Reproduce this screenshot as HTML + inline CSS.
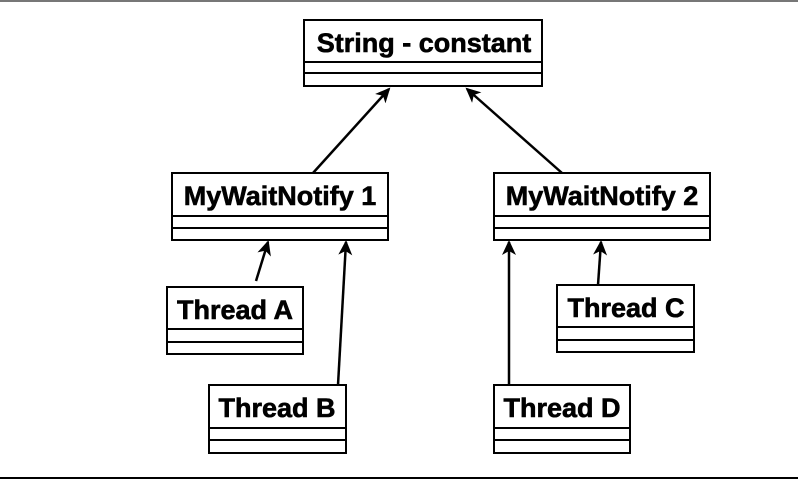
<!DOCTYPE html>
<html><head><style>
body{margin:0;background:#fff;width:798px;height:481px;overflow:hidden}
</style></head><body>
<svg width="798" height="481" viewBox="0 0 798 481" xmlns="http://www.w3.org/2000/svg">
<defs><marker id="a" markerWidth="16" markerHeight="16" refX="13" refY="8" orient="auto" markerUnits="userSpaceOnUse"><path d="M0,1 L15,8 L0,15 L4,8 z" fill="#000"/></marker></defs>
<line x1="0" y1="1" x2="798" y2="1" stroke="#777" stroke-width="2"/>
<line x1="0" y1="478" x2="798" y2="478" stroke="#000" stroke-width="2"/>
<g fill="#fff" stroke="#000" stroke-width="2">
<rect x="304" y="20" width="238" height="66"/><line x1="304" y1="62" x2="542" y2="62"/><line x1="304" y1="73" x2="542" y2="73"/>
<rect x="172" y="173" width="216" height="67"/><line x1="172" y1="216" x2="388" y2="216"/><line x1="172" y1="228" x2="388" y2="228"/>
<rect x="494" y="173" width="216" height="67"/><line x1="494" y1="216" x2="710" y2="216"/><line x1="494" y1="228" x2="710" y2="228"/>
<rect x="167" y="287" width="136" height="67"/><line x1="167" y1="329" x2="303" y2="329"/><line x1="167" y1="342" x2="303" y2="342"/>
<rect x="209" y="385" width="137" height="68"/><line x1="209" y1="428" x2="346" y2="428"/><line x1="209" y1="440" x2="346" y2="440"/>
<rect x="557" y="285" width="137" height="67"/><line x1="557" y1="327" x2="694" y2="327"/><line x1="557" y1="340" x2="694" y2="340"/>
<rect x="494" y="385" width="136" height="68"/><line x1="494" y1="428" x2="630" y2="428"/><line x1="494" y1="440" x2="630" y2="440"/>
</g>
<g stroke="#000" stroke-width="2.5" marker-end="url(#a)">
<line x1="313" y1="173" x2="389" y2="89"/>
<line x1="562" y1="173" x2="467" y2="89"/>
<line x1="256" y1="281" x2="268" y2="242"/>
<line x1="338" y1="385" x2="346" y2="242"/>
<line x1="509" y1="385" x2="509" y2="242"/>
<line x1="598" y1="285" x2="601" y2="242"/>
</g>
<g font-family="Liberation Sans, sans-serif" font-weight="bold" font-size="27" text-anchor="middle" stroke="#000" stroke-width="0.6">
<text x="424" y="52">String - constant</text>
<text x="280" y="205">MyWaitNotify 1</text>
<text x="602" y="205">MyWaitNotify 2</text>
<text x="235" y="319">Thread A</text>
<text x="277" y="417">Thread B</text>
<text x="626" y="317">Thread C</text>
<text x="562" y="417">Thread D</text>
</g>
</svg>
</body></html>
